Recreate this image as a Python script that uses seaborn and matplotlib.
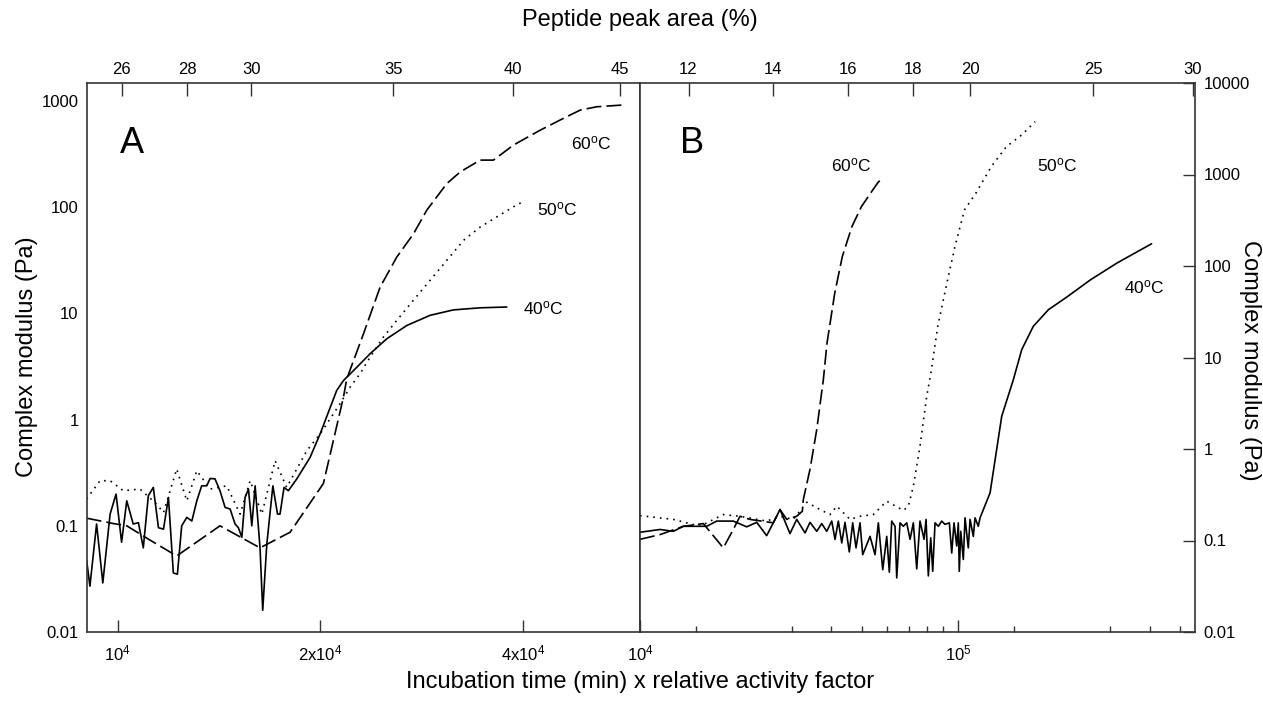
import matplotlib
matplotlib.use("Agg")
import matplotlib.pyplot as plt
import matplotlib.ticker as mticker
import pandas as pd
import seaborn as sns

# ---- panel A data (time x activity factor, complex modulus Pa) ----
a60_x = [9000, 9860, 10320, 11110, 12240, 14190, 16270, 18030, 20200, 21630, 21880, 23160, 24520,
         25960, 27470, 28760, 30790, 32230, 34500, 36110, 38660, 42360, 45850, 48550, 51400, 55980]
a60_y = [0.118, 0.105, 0.100, 0.075, 0.052, 0.100, 0.062, 0.087, 0.25, 1.62, 2.42, 6.4, 17.7,
         34, 56, 94, 167, 215, 278, 278, 385, 532, 687, 822, 884, 917]

a50_x = [9000, 9420, 9750, 10200, 10800, 11430, 11700, 12240, 12670, 13110, 13720, 14520, 15200,
         15730, 16370, 17130, 17820, 19090, 19970, 21380, 22130, 22890, 23690, 24790, 25960, 27470,
         29080, 30790, 32600, 34500, 36520, 38660, 40240]
a50_y = [0.179, 0.266, 0.266, 0.214, 0.222, 0.160, 0.133, 0.343, 0.172, 0.330, 0.222, 0.238, 0.129,
         0.266, 0.129, 0.41, 0.23, 0.51, 0.73, 1.41, 2.02, 2.70, 3.87, 5.98, 8.6, 13.3,
         20.5, 31.6, 48.8, 65, 81, 101, 116]

a40_x = [9000, 9100, 9310, 9510, 9750, 9950, 10140, 10320, 10550, 10740, 10920, 11110, 11300,
         11500, 11700, 11900, 12100, 12270, 12450, 12670, 12890, 13110, 13330, 13560, 13720, 13950,
         14190, 14440, 14690, 14940, 15110, 15290, 15460, 15640, 15820, 16000, 16270, 16420, 16650,
         17000, 17270, 17420, 17660, 17920, 18450, 19300, 19970, 21140, 21630, 22640, 23690, 25080,
         26860, 29080, 31490, 34500, 37790]
a40_y = [0.047, 0.027, 0.104, 0.029, 0.129, 0.199, 0.070, 0.172, 0.104, 0.107, 0.062, 0.192, 0.23,
         0.096, 0.093, 0.185, 0.036, 0.035, 0.100, 0.12, 0.111, 0.172, 0.238, 0.238, 0.279, 0.277,
         0.214, 0.149, 0.144, 0.104, 0.096, 0.078, 0.185, 0.222, 0.100, 0.238, 0.062, 0.016, 0.067,
         0.238, 0.129, 0.129, 0.23, 0.214, 0.277, 0.44, 0.73, 1.88, 2.33, 3.11, 4.17, 5.77,
         7.7, 9.6, 10.8, 11.3, 11.5]

# ---- panel B data ----
b60_x = [10000, 11560, 13690, 15820, 18280, 19650, 20630, 22180, 26250, 27560, 28930, 31100, 32390,
         32620, 34240, 35950, 37710, 38730, 40960, 43270, 46390, 49690, 53960, 56270, 58640]
b60_y = [0.103, 0.116, 0.143, 0.153, 0.083, 0.132, 0.184, 0.17, 0.156, 0.218, 0.17, 0.184, 0.209,
         0.28, 0.60, 1.63, 5.7, 14.4, 50.6, 127, 270, 446, 679, 836, 889]

b50_x = [10000, 12730, 15440, 18280, 20630, 25020, 27560, 30340, 33430, 36810, 39580, 41560, 45750,
         49180, 54150, 59680, 67300, 69780, 72350, 75930, 79700, 82180, 86340, 91280, 97790, 104800,
         113800, 127200, 142000, 158600, 174800]
b50_y = [0.187, 0.17, 0.143, 0.192, 0.184, 0.163, 0.184, 0.17, 0.262, 0.218, 0.192, 0.237, 0.17,
         0.184, 0.192, 0.269, 0.213, 0.237, 0.392, 1.07, 3.76, 6.8, 21.9, 55, 163, 411,
         625, 1220, 2020, 2710, 3780]

b40_x = [10000, 11560, 12730, 13690, 16210, 17430, 19650, 21650, 23280, 25020, 26250, 27560, 29620,
         31100, 33030, 34240, 35950, 37270, 38650, 40070, 41040, 42040, 43090, 44110, 45510, 46650,
         47780, 49180, 50150, 52880, 54830, 56160, 57980, 59680, 60810, 61870, 63370, 64150, 65700,
         67300, 68970, 70650, 72350, 74150, 75930, 78190, 79330, 80650, 82060, 83250, 84660, 86700,
         88860, 91000, 93900, 95540, 97140, 99060, 100200, 100900, 102000, 103900, 105200, 107700,
         109100, 111700, 113100, 115800, 117300, 126100, 137200, 149200, 158600, 172400, 192400,
         221000, 260900, 316400, 406000]
b40_y = [0.123, 0.132, 0.126, 0.143, 0.143, 0.163, 0.163, 0.141, 0.158, 0.113, 0.156, 0.218, 0.119,
         0.170, 0.121, 0.158, 0.126, 0.153, 0.126, 0.163, 0.103, 0.163, 0.094, 0.158, 0.075, 0.156,
         0.083, 0.156, 0.070, 0.111, 0.070, 0.156, 0.048, 0.111, 0.045, 0.163, 0.143, 0.039, 0.156,
         0.143, 0.156, 0.103, 0.156, 0.049, 0.163, 0.103, 0.170, 0.041, 0.107, 0.046, 0.156, 0.143,
         0.163, 0.150, 0.156, 0.073, 0.156, 0.087, 0.156, 0.046, 0.126, 0.062, 0.177, 0.083,
         0.170, 0.111, 0.177, 0.143, 0.177, 0.332, 2.28, 5.7, 12.2, 21.9, 33.3,
         46.4, 70.7, 108, 175]

# top axis: peptide peak area (%) and the time value it sits at
pep_a_vals = [26, 28, 30, 35, 40, 45]
pep_a_time = [10150, 12680, 15780, 25630, 38640, 55660]
pep_b_vals = [12, 14, 16, 18, 20, 25, 30]
pep_b_time = [14210, 26180, 45070, 72110, 109000, 265800, 548000]

styles = {"60": (0, (9, 3)), "50": (0, (1, 3)), "40": "-"}

TICK_FS = 12
LABEL_FS = 17


def series_frame(xs, ys, temp):
    return pd.DataFrame({"time": xs, "modulus": ys, "temp": temp})


def draw_curves(ax, frames):
    for df in frames:
        t = df["temp"].iloc[0]
        sns.lineplot(data=df, x="time", y="modulus", ax=ax, color="black", lw=1.2,
                     sort=False, estimator=None, linestyle=styles[t], legend=False)
    ax.set_xlabel("")
    ax.set_ylabel("")


def fmt_y(v):
    return f"{v:g}"


def main():
    sns.set_style("white")
    plt.rcParams["font.family"] = ["Liberation Sans", "DejaVu Sans"]
    plt.rcParams["mathtext.default"] = "regular"
    plt.rcParams["text.color"] = "black"
    plt.rcParams["xtick.labelcolor"] = "black"
    plt.rcParams["ytick.labelcolor"] = "black"

    fig = plt.figure(figsize=(12.63, 7.04), dpi=100)
    axA = fig.add_axes([87 / 1263, 1 - 632 / 704, 553 / 1263, 549 / 704])
    axB = fig.add_axes([640 / 1263, 1 - 632 / 704, 555 / 1263, 549 / 704])

    draw_curves(axA, [series_frame(a60_x, a60_y, "60"),
                      series_frame(a50_x, a50_y, "50"),
                      series_frame(a40_x, a40_y, "40")])
    draw_curves(axB, [series_frame(b60_x, b60_y, "60"),
                      series_frame(b50_x, b50_y, "50"),
                      series_frame(b40_x, b40_y, "40")])

    for ax in (axA, axB):
        ax.set_xscale("log")
        ax.set_yscale("log")
        for s in ax.spines.values():
            s.set_visible(True)
            s.set_color("#333333")
            s.set_linewidth(1.2)
        ax.tick_params(which="both", direction="in", labelsize=TICK_FS, color="#333333")
        ax.tick_params(which="major", length=9, width=1.0)
        ax.tick_params(which="minor", length=4.5, width=1.0)

    # panel A axes
    axA.set_xlim(9010, 59570)
    axA.set_ylim(0.01, 1480)
    yt = [0.01, 0.1, 1, 10, 100, 1000]
    axA.set_yticks(yt, [fmt_y(v) for v in yt])
    axA.yaxis.set_minor_locator(mticker.NullLocator())
    axA.set_xticks([1e4, 2e4, 4e4], ["$10^4$", "2x$10^4$", "4x$10^4$"])
    axA.xaxis.set_minor_locator(mticker.NullLocator())
    axA.tick_params(axis="x", pad=8)
    axA.tick_params(axis="y", pad=6)

    # panel B axes
    axB.set_xlim(1e4, 5.56e5)
    axB.set_ylim(0.01, 10000)
    ytb = [0.01, 0.1, 1, 10, 100, 1000, 10000]
    axB.yaxis.tick_right()
    axB.set_yticks(ytb, [fmt_y(v) for v in ytb])
    axB.yaxis.set_minor_locator(mticker.NullLocator())
    axB.set_xticks([1e4, 1e5], ["$10^4$", "$10^5$"])
    axB.set_xticks([15000, 30000, 40000, 50000, 60000, 70000, 80000, 90000,
                    150000, 300000, 400000, 500000], minor=True)
    axB.xaxis.set_minor_formatter(mticker.NullFormatter())
    axB.tick_params(axis="x", pad=8)
    axB.tick_params(axis="y", pad=6)

    # top peptide axes
    for ax, vals, times in ((axA, pep_a_vals, pep_a_time), (axB, pep_b_vals, pep_b_time)):
        top = ax.twiny()
        top.set_xscale("log")
        top.set_xlim(ax.get_xlim())
        top.set_xticks(times, [str(v) for v in vals])
        top.xaxis.set_minor_locator(mticker.NullLocator())
        top.tick_params(direction="in", length=9, width=1.0, labelsize=TICK_FS, pad=4,
                        color="#333333")
        for s in top.spines.values():
            s.set_visible(False)

    # annotations
    axA.text(0.06, 0.89, "A", transform=axA.transAxes, fontsize=26, va="center")
    axB.text(0.072, 0.89, "B", transform=axB.transAxes, fontsize=26, va="center")
    lab = dict(fontsize=12.5, va="center", ha="left")
    axA.text(47100, 400, "60$^o$C", **lab)
    axA.text(41900, 95, "50$^o$C", **lab)
    axA.text(40000, 11.1, "40$^o$C", **lab)
    axB.text(39800, 1270, "60$^o$C", **lab)
    axB.text(177000, 1270, "50$^o$C", **lab)
    axB.text(333000, 59, "40$^o$C", **lab)

    fig.text(27 / 1263, 1 - 357 / 704, "Complex modulus (Pa)", rotation=90,
             ha="center", va="center", fontsize=LABEL_FS)
    fig.text(1250 / 1263, 1 - 360 / 704, "Complex modulus (Pa)", rotation=270,
             ha="center", va="center", fontsize=LABEL_FS)
    fig.text(640 / 1263, 1 - 682 / 704, "Incubation time (min) x relative activity factor",
             ha="center", va="center", fontsize=LABEL_FS)
    fig.text(640 / 1263, 1 - 20 / 704, "Peptide peak area (%)",
             ha="center", va="center", fontsize=LABEL_FS)

    fig.savefig("out.png", dpi=100)


if __name__ == "__main__":
    main()
